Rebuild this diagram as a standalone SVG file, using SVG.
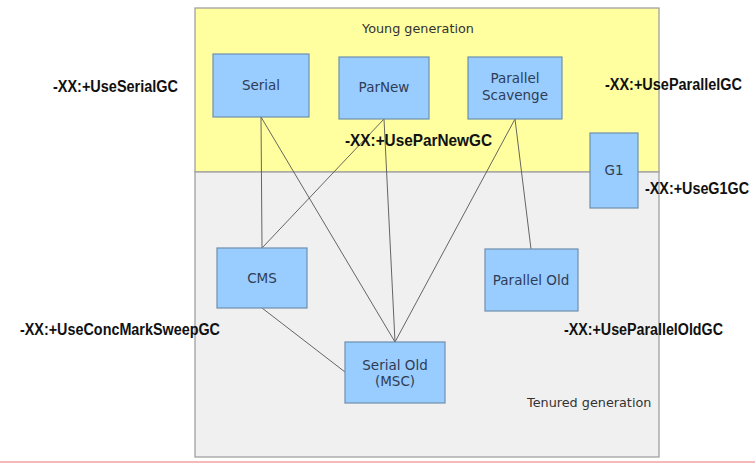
<svg xmlns="http://www.w3.org/2000/svg" width="755" height="463" viewBox="0 0 755 463">
<style>
.node rect{fill:#99ccff;stroke:#6f8fae;stroke-width:1.2}
.node text{font-family:"DejaVu Sans",Verdana,sans-serif;font-size:13.5px;fill:#2f3d55;text-anchor:middle}
.gen{font-family:"DejaVu Sans",Verdana,sans-serif;font-size:12.8px;fill:#333}
.opt{font-family:"Liberation Sans Narrow","Liberation Sans",Arial,sans-serif;font-weight:bold;font-size:16px;fill:#111}
.conn line{stroke:#555;stroke-width:0.9}
</style>
<rect width="755" height="463" fill="#fff"/>
<g id="young-generation">
<rect x="195" y="8" width="464" height="164" fill="#ffffa0" stroke="#a0a0a0" stroke-width="1.3"/>
<text class="gen" x="418" y="33" text-anchor="middle">Young generation</text>
</g>
<g id="tenured-generation">
<rect x="195" y="172" width="464" height="285" fill="#f0f0f0" stroke="#a0a0a0" stroke-width="1.3"/>
<text class="gen" x="527" y="407">Tenured generation</text>
</g>
<g id="connectors" class="conn">
<line x1="261" y1="117" x2="262" y2="248"/>
<line x1="261" y1="117" x2="395" y2="342"/>
<line x1="384" y1="119" x2="262" y2="248"/>
<line x1="384" y1="119" x2="395" y2="342"/>
<line x1="515" y1="119" x2="395" y2="342"/>
<line x1="515" y1="119" x2="531" y2="249"/>
<line x1="262" y1="308" x2="345" y2="372"/>
</g>
<g id="serial" class="node"><rect x="213" y="54" width="96" height="63"/><text x="261" y="90">Serial</text></g>
<g id="parnew" class="node"><rect x="339" y="57" width="90" height="62"/><text x="384" y="92">ParNew</text></g>
<g id="parallel-scavenge" class="node"><rect x="468" y="57" width="94" height="62"/><text x="515" y="83">Parallel</text><text x="515" y="100">Scavenge</text></g>
<g id="g1" class="node"><rect x="590" y="133" width="48" height="75"/><text x="614" y="175">G1</text></g>
<g id="cms" class="node"><rect x="217" y="248" width="90" height="60"/><text x="262" y="283">CMS</text></g>
<g id="parallel-old" class="node"><rect x="485" y="249" width="93" height="62"/><text x="531" y="285">Parallel Old</text></g>
<g id="serial-old" class="node"><rect x="345" y="342" width="100" height="61"/><text x="395" y="370">Serial Old</text><text x="395" y="386">(MSC)</text></g>
<g id="options">
<text class="opt" x="53" y="92" textLength="125" lengthAdjust="spacingAndGlyphs">-XX:+UseSerialGC</text>
<text class="opt" x="605" y="90" textLength="137" lengthAdjust="spacingAndGlyphs">-XX:+UseParallelGC</text>
<text class="opt" x="345" y="146" textLength="147" lengthAdjust="spacingAndGlyphs" style="font-size:17px">-XX:+UseParNewGC</text>
<text class="opt" x="645" y="194" textLength="104" lengthAdjust="spacingAndGlyphs">-XX:+UseG1GC</text>
<text class="opt" x="20" y="335" textLength="200" lengthAdjust="spacingAndGlyphs">-XX:+UseConcMarkSweepGC</text>
<text class="opt" x="564" y="335" textLength="159" lengthAdjust="spacingAndGlyphs">-XX:+UseParallelOldGC</text>
</g>
<line x1="0" y1="462" x2="755" y2="462" stroke="#f4a0a0" stroke-width="1.5"/>
</svg>
